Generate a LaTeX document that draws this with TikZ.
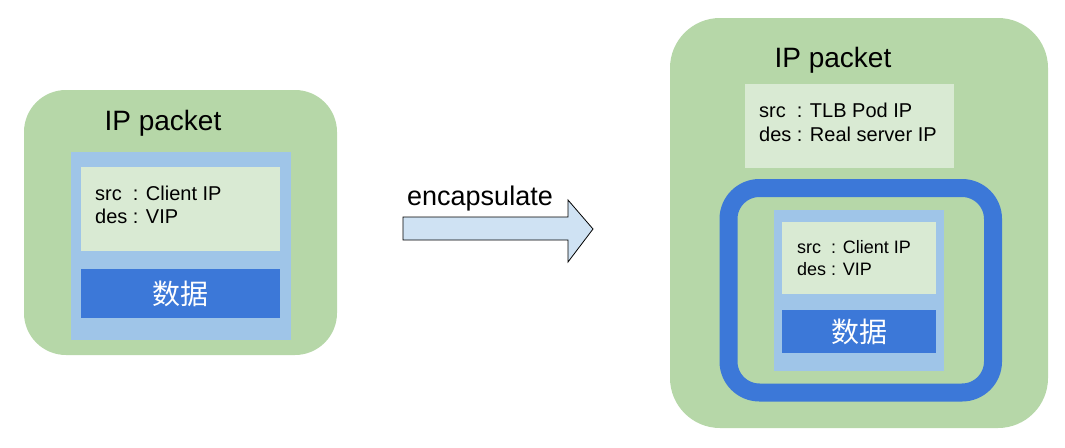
\documentclass[tikz,border=0pt]{standalone}
\usepackage{fontspec}
\setmainfont{Liberation Sans}
\newfontfamily\cjk{Noto Sans CJK SC}
\definecolor{pkgreen}{HTML}{B6D7A8}
\definecolor{pklblue}{HTML}{9FC5E8}
\definecolor{pkhead}{HTML}{D9EAD3}
\definecolor{pkdblue}{HTML}{3C78D8}
\definecolor{pkarrow}{HTML}{CFE2F3}
\begin{document}
\begin{tikzpicture}[x=1pt,y=-1pt,
  box/.style={rectangle,inner sep=0pt,outer sep=0pt,draw=none},
  greenbox/.style={box,fill=pkgreen,rounded corners=42pt},
  lbluebox/.style={box,fill=pklblue},
  headbox/.style={box,fill=pkhead},
  databox/.style={box,fill=pkdblue,text=white,font=\cjk\fontsize{28}{32}\selectfont},
  title/.style={inner sep=0pt,anchor=base,font=\fontsize{28}{32}\selectfont},
  line/.style={inner sep=0pt,anchor=base west,font=\fontsize{20}{24}\selectfont},
  sline/.style={inner sep=0pt,anchor=base west,font=\fontsize{18}{21}\selectfont},
]
\useasboundingbox (0,0) rectangle (1065,447);
% left packet
\node[greenbox,minimum width=313pt,minimum height=265pt] (lpk) at (180.5,222.5) {};
\node[lbluebox,minimum width=220pt,minimum height=188pt] (lin) at (181,246) {};
\node[headbox,minimum width=199pt,minimum height=84pt] (lhd) at (180.5,209) {};
\node[databox,minimum width=199pt,minimum height=49pt] (ldata) at (180.5,293.5) {数据};
\node[title] (ltitle) at (163,130) {IP packet};
\node[line] (lsrc) at (95,200) {src\ \ : Client IP};
\node[line] (ldes) at (95,223) {des : VIP};
% arrow
\draw[fill=pkarrow,draw=black,line width=0.8pt,line join=miter]
  (403,217) -- (568,217) -- (568,200) -- (593,229) -- (568,262) -- (568,240) -- (403,240) -- cycle;
\node[title,font=\fontsize{27}{32}\selectfont] (enc) at (480,205) {encapsulate};
% right packet
\node[greenbox,rounded corners=50pt,minimum width=378pt,minimum height=410pt] (rpk) at (859,223) {};
\node[title] (rtitle) at (833,67) {IP packet};
\node[headbox,minimum width=209pt,minimum height=84pt] (rhd) at (849.5,126) {};
\node[line] (rsrc) at (759,117) {src\ \ : TLB Pod IP};
\node[line] (rdes) at (759,141) {des : Real server IP};
\node[box,draw=pkdblue,line width=18pt,rounded corners=31pt,minimum width=264.5pt,minimum height=204.5pt] (ring) at (860.75,290.25) {};
\node[lbluebox,minimum width=170pt,minimum height=161pt] (rin) at (859,290.5) {};
\node[headbox,minimum width=154pt,minimum height=72pt] (rihd) at (859,258) {};
\node[databox,minimum width=154pt,minimum height=43pt] (rdata) at (859,331.5) {数据};
\node[sline] (risrc) at (797,253) {src\ \ : Client IP};
\node[sline] (rides) at (797,275) {des : VIP};
\end{tikzpicture}
\end{document}
